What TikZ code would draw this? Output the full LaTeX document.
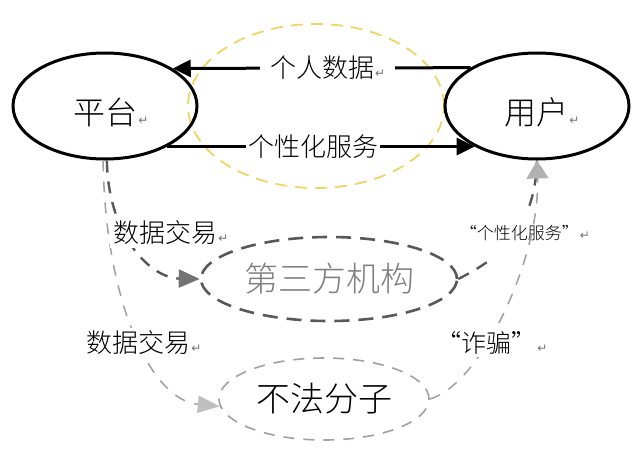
\documentclass[tikz,border=0pt]{standalone}
\usepackage{fontspec}
\usetikzlibrary{shapes.geometric,arrows.meta}
\newfontfamily\cjk{Noto Sans CJK SC Light}
\newfontfamily\dvs{DejaVu Sans}
\newcommand{\retmark}{\hspace{1pt}{\dvs\fontsize{12}{12}\selectfont\textcolor{black!55}{↵}}}
\definecolor{ylw}{RGB}{240,212,100}
\definecolor{dk}{RGB}{88,88,88}
\definecolor{lt}{RGB}{160,160,160}
\begin{document}
\begin{tikzpicture}[x=1pt,y=-1pt,
 bigell/.style={ellipse,draw=black,line width=3pt,minimum width=184pt,minimum height=106pt,inner sep=0pt},
 yell/.style={ellipse,draw=ylw,line width=1.8pt,dash pattern=on 12pt off 8pt,minimum width=256pt,minimum height=164pt},
 tpell/.style={ellipse,draw=dk,line width=2.6pt,dash pattern=on 15pt off 9pt,minimum width=256pt,minimum height=84pt,inner sep=0pt,text=black!50,font=\cjk\fontsize{34}{40}\selectfont},
 nfell/.style={ellipse,draw=lt,line width=1.6pt,dash pattern=on 11pt off 9pt,minimum width=210pt,minimum height=82pt,inner sep=0pt,font=\cjk\fontsize{34}{40}\selectfont},
 maintxt/.style={font=\cjk\fontsize{32}{38}\selectfont,inner sep=0pt},
 lbl/.style={font=\cjk\fontsize{26}{30}\selectfont,fill=white,inner sep=3pt},
 smalllbl/.style={font=\cjk\fontsize{17}{20}\selectfont,fill=white,inner sep=2pt},
 solidarrow/.style={line width=3pt,-{Triangle[length=18pt,width=17pt]}},
 dkdash/.style={draw=dk,line width=2.4pt,dash pattern=on 12pt off 9pt},
 ltdash/.style={draw=lt,line width=1.5pt,dash pattern=on 11pt off 10pt},
]
\useasboundingbox[fill=white] (0,0) rectangle (640,461);
\node[yell] (yc) at (316,106) {};
\node[bigell] (p) at (105,106) {};
\node[bigell] (u) at (537,106) {};
\node[maintxt] (pt) at (111,112) {平台\retmark};
\node[maintxt] (ut) at (542,112) {用户\retmark};
\node[tpell] (tp) at (329,279) {第三方机构};
\node[nfell] (nf) at (324,399) {不法分子};
\draw[solidarrow] (u.150.7) -- node[lbl,inner xsep=10pt,pos=0.48] (l1) {个人数据\retmark} (p.29.3);
\draw[solidarrow] (p.-33.5) -- node[lbl,inner xsep=2pt,pos=0.474] (l2) {个性化服务} (u.213.5);
\draw[dkdash,-{Triangle[length=21pt,width=18pt,color=black!55]}] (p.-88) .. controls (108,235) and (150,278) .. (tp.west);
\draw[ltdash,-{Triangle[length=22pt,width=17pt,color=black!25]}] (p.-92) .. controls (105,300) and (150,400) .. (nf.184);
\node[lbl] (l3) at (171,233) {数据交易\retmark};
\node[lbl] (l4) at (144,343) {数据交易\retmark};
\draw[dkdash] (tp.east) .. controls (485,265) and (535,240) .. (u.south);
\node[smalllbl,minimum height=50pt] (l5) at (525,233) {“个性化服务”\retmark};
\draw[ltdash,-{Triangle[length=18pt,width=22pt,color=black!30]}] (nf.east) .. controls (480,385) and (540,260) .. (u.south);
\node[lbl,font=\cjk\fontsize{25}{30}\selectfont] (l6) at (492,343) {“诈骗”\retmark};
\end{tikzpicture}
\end{document}
